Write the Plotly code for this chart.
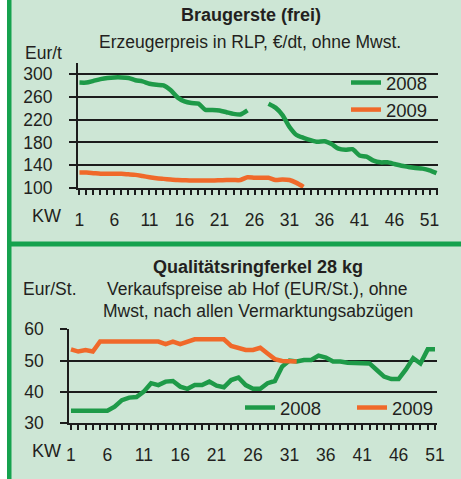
import plotly.graph_objects as go

# ---------------- data ----------------
weeks_top = list(range(1, 53))
braugerste_2008 = [285, 285, 288, 291, 293, 294, 294, 293, 289, 287, 283, 281, 280, 272, 259, 252,
                   249, 248, 237, 237, 236, 233, 230, 229, 236, None, None,
                   248, 241, 228, 207, 193, 188, 184, 181, 182, 177, 169, 167, 168, 157, 155,
                   148, 145, 145, 142, 139, 137, 135, 134, 131, 126]
weeks_top_2009 = list(range(1, 34))
braugerste_2009 = [127, 127, 126, 125, 125, 125, 125, 124, 123, 121, 119, 117, 116, 115, 114, 113.5,
                   113, 113, 113, 113, 113.5, 114, 114, 114, 119, 118, 118, 118, 114, 115, 114, 109, 102]

weeks_bot = list(range(1, 52))
ferkel_2008 = [34, 34, 34, 34, 34, 34, 35.3, 37.4, 38.2, 38.4, 40.1, 42.8, 42.2, 43.3, 43.5, 41.7,
               41, 42.2, 42.2, 43.3, 42, 41.5, 43.8, 44.6, 42.2, 41, 41, 42.8, 43.5, 48.1, 50,
               49.7, 50.2, 50.2, 51.6, 51, 49.7, 49.7, 49.3, 49.3, 49.3, 49.1, 47, 44.9, 44.1,
               44.1, 47.2, 50.8, 49.1, 53.6, 53.6]
weeks_bot_2009 = list(range(1, 33))
ferkel_2009 = [53.6, 52.9, 53.4, 52.9, 56.1, 56.1, 56.1, 56.1, 56.1, 56.1, 56.1, 56.1, 56.1, 55.3,
               56.1, 55.3, 55.9, 56.8, 56.8, 56.8, 56.8, 56.8, 54.7, 53.9, 53.4, 53.4, 54.1,
               52.3, 50.5, 49.9, 49.7, 49.7]

top_yticks = [100, 140, 180, 220, 260, 300]
bot_yticks = [30, 40, 50, 60]
kw_labels = ["1", "6", "11", "16", "21", "26", "31", "36", "41", "46", "51"]

# ---------------- styling ----------------
W, H = 461, 479
FONT = "Arial, Liberation Sans, sans-serif"
TXT = "#231f20"
GREEN = "#1e9a48"
ORANGE = "#f0692a"
BG = "#cde6d5"
BORDER = "#15a24e"
AX = "#1c1c1c"


def px(x):
    return x / W


def py(y):
    return 1 - y / H


def tick_text(weeks):
    return [str(w) if str(w) in kw_labels else "" for w in weeks]


fig = go.Figure()
fig.add_trace(go.Scatter(x=weeks_top, y=braugerste_2008, name="2008", mode="lines",
                         line=dict(color=GREEN, width=4.5, shape="spline", smoothing=0.6),
                         connectgaps=False, xaxis="x", yaxis="y", legend="legend"))
fig.add_trace(go.Scatter(x=weeks_top_2009, y=braugerste_2009, name="2009", mode="lines",
                         line=dict(color=ORANGE, width=4.5, shape="spline", smoothing=0.6),
                         xaxis="x", yaxis="y", legend="legend"))
fig.add_trace(go.Scatter(x=weeks_bot, y=ferkel_2008, name="2008", mode="lines",
                         line=dict(color=GREEN, width=4.5),
                         xaxis="x2", yaxis="y2", legend="legend2"))
fig.add_trace(go.Scatter(x=weeks_bot_2009, y=ferkel_2009, name="2009", mode="lines",
                         line=dict(color=ORANGE, width=4.5),
                         xaxis="x2", yaxis="y2", legend="legend2"))

xcommon = dict(showline=True, linecolor=AX, linewidth=2, ticks="outside", ticklen=5,
               tickwidth=2, tickcolor=AX, showgrid=False, zeroline=False, automargin=False,
               tickfont=dict(size=17.5, color=TXT, family=FONT), ticklabelstandoff=10)
ycommon = dict(showline=True, linecolor=AX, linewidth=2, ticks="outside", ticklen=7,
               tickwidth=2, tickcolor=AX, showgrid=True, gridcolor=AX, gridwidth=2,
               zeroline=False, automargin=False, tickfont=dict(size=17.5, color=TXT, family=FONT),
               ticklabelstandoff=13)

fig.update_layout(
    width=W, height=H,
    margin=dict(l=0, r=0, t=0, b=0, autoexpand=False),
    paper_bgcolor=BG, plot_bgcolor="rgba(0,0,0,0)",
    font=dict(family=FONT, color=TXT, size=17),
    hovermode=False,
    xaxis=dict(domain=[px(78), px(438)], range=[0.79, 52.21], anchor="y",
               tickmode="array", tickvals=weeks_top, ticktext=tick_text(weeks_top), **xcommon),
    yaxis=dict(domain=[py(188), py(62.6)], range=[100, 320], anchor="x",
               tickmode="array", tickvals=top_yticks, **ycommon),
    xaxis2=dict(domain=[px(69.3), px(436.7)], range=[0.77, 51.23], anchor="y2",
                tickmode="array", tickvals=weeks_bot, ticktext=tick_text(weeks_bot), **xcommon),
    yaxis2=dict(domain=[py(423.3), py(329.3)], range=[30, 60], anchor="x2",
                tickmode="array", tickvals=bot_yticks, **ycommon),
    legend=dict(x=px(346), y=py(64), xanchor="left", yanchor="top", orientation="v",
                bgcolor="rgba(0,0,0,0)", font=dict(size=18.5, color=TXT, family=FONT),
                tracegroupgap=0),
    legend2=dict(x=px(240), y=py(408), xanchor="left", yanchor="middle", orientation="h",
                 bgcolor="rgba(0,0,0,0)", font=dict(size=18.5, color=TXT, family=FONT),
                 entrywidth=67, entrywidthmode="pixels"),
    showlegend=True,
)

shapes = [
    dict(type="rect", xref="paper", yref="paper", x0=0, x1=px(7), y0=0, y1=1,
         fillcolor="white", line=dict(width=0), layer="below"),
    dict(type="rect", xref="paper", yref="paper", x0=px(7), x1=px(11.5), y0=0, y1=1,
         fillcolor=BORDER, line=dict(width=0), layer="below"),
    dict(type="rect", xref="paper", yref="paper", x0=px(7), x1=1, y0=py(246.5), y1=py(241.5),
         fillcolor=BORDER, line=dict(width=0), layer="below"),
]
fig.update_layout(shapes=shapes)

ann = [
    dict(text="<b>Braugerste (frei)</b>", x=px(251), y=py(15), size=18),
    dict(text="Erzeugerpreis in RLP, €/dt, ohne Mwst.", x=px(250), y=py(42), size=17.5),
    dict(text="Eur/t", x=px(43), y=py(53), size=17.5),
    dict(text="KW", x=px(46), y=py(216), size=18),
    dict(text="<b>Qualitätsringferkel 28 kg</b>", x=px(258), y=py(267), size=18),
    dict(text="Verkaufspreise ab Hof (EUR/St.), ohne", x=px(257), y=py(289), size=17.5),
    dict(text="Mwst, nach allen Vermarktungsabzügen", x=px(257.5), y=py(311), size=17.5),
    dict(text="Eur/St.", x=px(50), y=py(289), size=17.5),
    dict(text="KW", x=px(46), y=py(451), size=18),
]
fig.update_layout(annotations=[
    dict(text=a["text"], x=a["x"], y=a["y"], xref="paper", yref="paper",
         xanchor="center", yanchor="middle", showarrow=False,
         font=dict(size=a["size"], color=TXT, family=FONT))
    for a in ann
])

fig.write_html("out.html", config={"displayModeBar": False},
               post_script="document.body.style.margin='0px';")
